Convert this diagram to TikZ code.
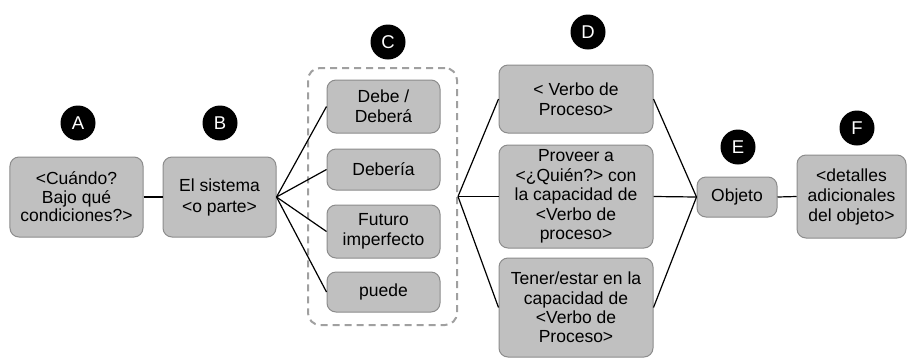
\documentclass[tikz,border=0pt]{standalone}
\usepackage{fontspec}
\setmainfont{Liberation Sans}
\definecolor{boxfill}{HTML}{C0C0C0}
\definecolor{boxline}{HTML}{8C8C8C}
\definecolor{dashline}{HTML}{A0A0A0}
\begin{document}
\begin{tikzpicture}[x=1bp,y=-1bp,
  box/.style={draw=boxline,fill=boxfill,line width=1bp,rounded corners=9bp,
    align=center,inner sep=0pt,
    font=\fontsize{17.5bp}{19.8bp}\selectfont},
  tag/.style={circle,fill=black,text=white,minimum size=35bp,inner sep=0pt,
    font=\fontsize{18.5bp}{20bp}\selectfont},
  link/.style={draw=black,line width=1.2bp}]
\useasboundingbox (0,0) rectangle (907,359);
% dashed group
\node[draw=dashline,dashed,dash pattern=on 7bp off 5bp,line width=2bp,rounded corners=12bp,
  minimum width=149bp,minimum height=257bp,inner sep=0pt] (Cg) at (382.5,196.5) {};
% boxes
\node[box,minimum width=133bp,minimum height=80bp,font=\fontsize{17.5bp}{18.4bp}\selectfont] (A) at (76.5,197) {<Cuándo?\\Bajo qué\\condiciones?>};
\node[box,minimum width=113bp,minimum height=80bp,font=\fontsize{17.5bp}{21bp}\selectfont] (B) at (219.5,197) {El sistema\\<o parte>};
\node[box,minimum width=113bp,minimum height=53bp] (C1) at (383.5,106.5) {Debe /\\Deberá};
\node[box,minimum width=113bp,minimum height=41bp] (C2) at (383.5,169.5) {Debería};
\node[box,minimum width=113bp,minimum height=53bp] (C3) at (383.5,231.5) {Futuro\\imperfecto};
\node[box,minimum width=113bp,minimum height=40bp] (C4) at (383.5,292) {puede};
\node[box,minimum width=154bp,minimum height=68bp] (D1) at (576,99) {< Verbo de\\Proceso>};
\node[box,minimum width=154bp,minimum height=103bp,font=\fontsize{17.5bp}{19.6bp}\selectfont] (D2) at (576,196.5) {Proveer a\\<¿Quién?> con\\la capacidad de\\<Verbo de\\proceso>};
\node[box,minimum width=154bp,minimum height=99bp,font=\fontsize{17.5bp}{19.2bp}\selectfont] (D3) at (576,307.5) {Tener/estar en la\\capacidad de\\<Verbo de\\Proceso>};
\node[box,minimum width=80bp,minimum height=40bp] (E) at (737,197) {Objeto};
\node[box,minimum width=109bp,minimum height=83bp,font=\fontsize{17.5bp}{20bp}\selectfont] (F) at (851.5,196.5) {<detalles\\adicionales\\del objeto>};
% tags
\node[tag] (tA) at (78,123) {A};
\node[tag] (tB) at (220,123) {B};
\node[tag] (tC) at (388,42) {C};
\node[tag] (tD) at (588,32) {D};
\node[tag] (tE) at (738,147) {E};
\node[tag] (tF) at (857,128) {F};
% connectors
\draw[link] (A.east) -- (B.west);
\foreach \n in {C1,C2,C3,C4} \draw[link] (B.east) -- (\n.west);
\foreach \n in {D1,D2,D3} \draw[link] (Cg.east) -- (\n.west);
\foreach \n in {D1,D2,D3} \draw[link] (\n.east) -- (E.west);
\draw[link] (E.east) -- (F.west);
\end{tikzpicture}
\end{document}
